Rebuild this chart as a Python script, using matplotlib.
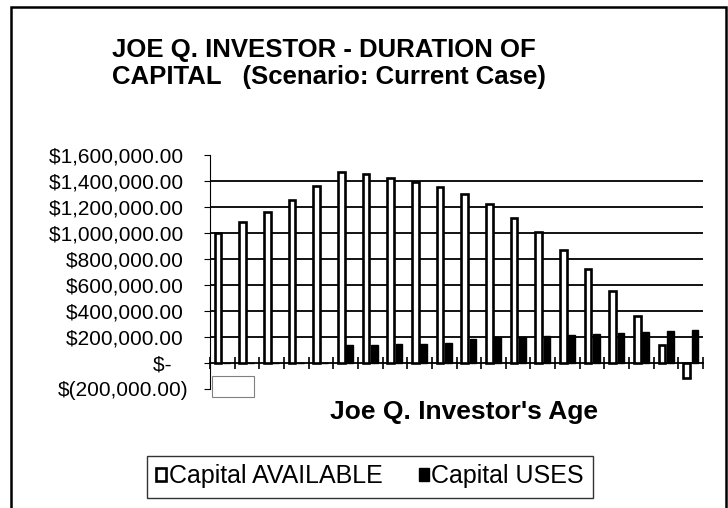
import numpy as np
import matplotlib.pyplot as plt
from matplotlib.patches import Rectangle
from matplotlib.ticker import FuncFormatter

plt.rcParams['font.family'] = ['Liberation Sans', 'DejaVu Sans']

# values (one pair of bars per age step)
available = [1000000, 1082000, 1164000, 1256000, 1359000, 1467000, 1451000,
             1426000, 1395000, 1351000, 1303000, 1221000, 1118000, 1005000,
             872000, 723000, 551000, 362000, 142000, -115000]
uses = [0, 0, 0, 0, 0, 138000, 141000, 146000, 149000, 154000, 185000,
        197000, 200000, 208000, 214000, 222000, 231000, 238000, 248000, 257000]
series_names = ['Capital AVAILABLE', 'Capital USES']
yticks = list(range(-200000, 1600001, 200000))
title = 'JOE Q. INVESTOR - DURATION OF\nCAPITAL   (Scenario: Current Case)'
xlabel = "Joe Q. Investor's Age"


def money(v, pos=None):
    # Excel accounting style
    if v == 0:
        return '$-   '
    if v < 0:
        return '$({:,.2f})'.format(-v)
    return '${:,.2f} '.format(v)


fig = plt.figure(figsize=(7.28, 5.08), dpi=100)
ax = fig.add_axes([210/728, 1-389/508, 493/728, 234/508])

x = np.arange(1, len(available) + 1)
b1 = ax.bar(x - 0.17, available, width=0.27, color='white', edgecolor='black',
            linewidth=1.9, label=series_names[0], zorder=3)
b2 = ax.bar(x + 0.17, uses, width=0.27, color='black', edgecolor='black',
            linewidth=1.0, label=series_names[1], zorder=3)

ax.set_xlim(0.5, len(available) + 0.5)
ax.set_ylim(-200000, 1600000)
ax.set_yticks(yticks)
ax.yaxis.set_major_formatter(FuncFormatter(money))
ax.set_xticks(np.arange(0.5, len(available) + 1, 1))
ax.set_xticklabels([])
ax.tick_params(axis='x', direction='inout', length=8, width=1.2)
ax.tick_params(axis='y', direction='out', length=4, width=0.8, labelsize=15, pad=11.2)

for v in yticks:
    if v > 0 and v < 1600000:
        ax.axhline(v, color='black', lw=1.3, zorder=1)

ax.spines['top'].set_visible(False)
ax.spines['right'].set_visible(False)
ax.spines['bottom'].set_position(('data', 0))
ax.spines['bottom'].set_linewidth(1.3)
ax.spines['left'].set_linewidth(0.8)

fig.text(464/728, 1-412/508, xlabel, ha='center', va='center',
         fontsize=19, fontweight='bold')
fig.text(112/728, 1-63.5/508, title, ha='left', va='center',
         fontsize=18.5, fontweight='bold', linespacing=1.2)

leg = fig.legend(handles=[b1, b2], loc='center', bbox_to_anchor=(370/728, 1-476.5/508),
                 ncol=2, fontsize=18, frameon=True, fancybox=False,
                 edgecolor='black', handlelength=0.4, handleheight=0.4,
                 handletextpad=0.1, columnspacing=1.45, borderpad=0.36)
leg.get_frame().set_linewidth(1.0)

# empty category-label box and outer chart border
fig.patches.append(Rectangle((212/728, 1-397/508), 42/728, 21/508, fill=False,
                             ec='gray', lw=0.8, transform=fig.transFigure))
fig.patches.append(Rectangle((11/728, -0.05), 715/728, 1-7/508+0.05, fill=False,
                             ec='black', lw=1.8, transform=fig.transFigure))

fig.savefig('out.png', dpi=100)
